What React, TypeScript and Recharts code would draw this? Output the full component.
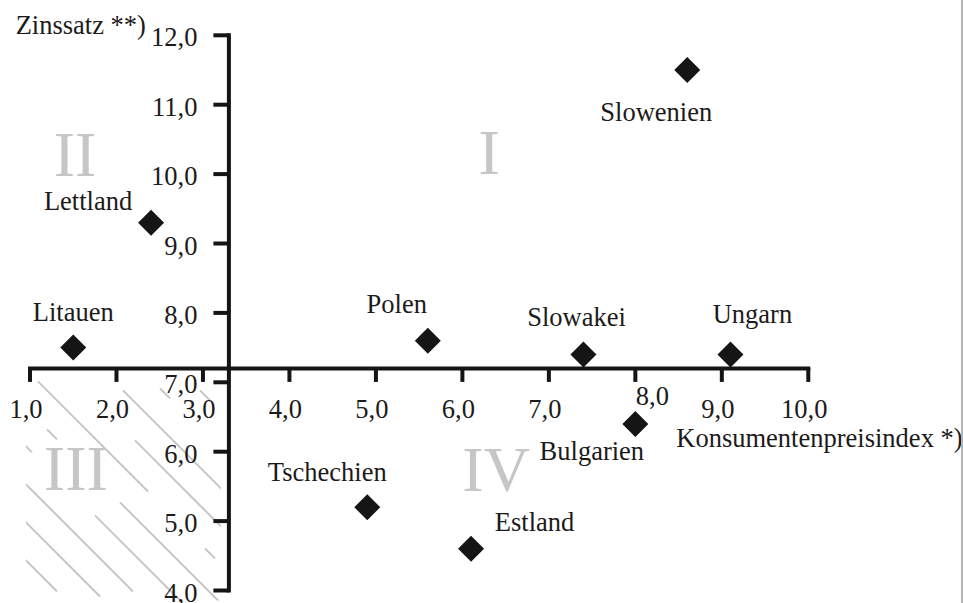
import React from 'react';
import { ScatterChart, Scatter, XAxis, YAxis, ReferenceLine, ReferenceDot, ReferenceArea } from 'recharts';

// Länder, Konsumentenpreisindex (x) und Zinssatz (y)
const countries = ['Litauen', 'Lettland', 'Polen', 'Tschechien', 'Estland', 'Slowakei', 'Bulgarien', 'Slowenien', 'Ungarn'];
const cpi = [1.5, 2.4, 5.6, 4.9, 6.1, 7.4, 8.0, 8.6, 9.1];
const rate = [7.5, 9.3, 7.6, 5.2, 4.6, 7.4, 6.4, 11.5, 7.4];

const xTicks = [1, 2, 3, 4, 5, 6, 7, 8, 9, 10];
const xTickLabels = ['1,0', '2,0', '3,0', '4,0', '5,0', '6,0', '7,0', '8,0', '9,0', '10,0'];
const yTicks = [4, 5, 6, 7, 8, 9, 10, 11, 12];
const yTickLabels = ['4,0', '5,0', '6,0', '7,0', '8,0', '9,0', '10,0', '11,0', '12,0'];

// Schnittpunkt der Achsen
const xCross = 3.3;
const yCross = 7.2;

const quadrants = ['I', 'II', 'III', 'IV'];
const quadrantX = [6.31, 1.52, 1.53, 6.39];
const quadrantY = [10.31, 10.28, 5.76, 5.74];

const data = countries.map((name, i) => ({ name, x: cpi[i], y: rate[i] }));

// label placement (px, relative to the marker)
const labelOffsets: Record<string, [number, number]> = {
    Litauen: [0, -26.6],
    Lettland: [-63, -13],
    Polen: [-31, -28],
    Tschechien: [-40, -26],
    Estland: [63.5, -18],
    Slowakei: [-7, -29],
    Bulgarien: [-43.5, 36.5],
    Slowenien: [-31, 51],
    Ungarn: [22, -32],
};

const FONT = "'Liberation Serif', 'Times New Roman', Tinos, 'DejaVu Serif', serif";
const FS = 26.5;
const INK = '#151515';
const TEXT = '#1c1a1a';
const GREY = '#c6c6c6';

const textStyle = (size: number, color: string) => ({ fontFamily: FONT, fontSize: size, fill: color });

// hatch lines in quadrant III
const hatchOffsets = [-148, -110, -71, -33, 5, 44, 82, 120, 158, 196];
const hatchPhase = [3, -37, 93, 105, 8, 90, 65, -7, -40, -83];

const HatchShape = (props: any) => {
    const { x, y, width, height } = props;
    return (
        <g>
            <defs>
                <clipPath id="hatch-clip">
                    <rect x={x - 4} y={y + 10} width={width - 4} height={height} />
                </clipPath>
            </defs>
            <g clipPath="url(#hatch-clip)">
                {hatchOffsets.map((c, i) => {
                    const sx = x + hatchPhase[i] - 240;
                    const sy = y + (sx - x) + c;
                    return (
                        <line
                            key={i}
                            x1={sx}
                            y1={sy}
                            x2={sx + 600}
                            y2={sy + 600}
                            stroke={GREY}
                            strokeWidth={2}
                            strokeDasharray="155.6 80.6 14.1 89.1"
                        />
                    );
                })}
            </g>
        </g>
    );
};

const Diamond = (props: any) => {
    const { cx, cy } = props;
    const name = props.payload?.name ?? props.name;
    const [dx, dy] = labelOffsets[name] || [0, -28];
    const r = 13;
    return (
        <g>
            <polygon points={`${cx},${cy - r} ${cx + r},${cy} ${cx},${cy + r} ${cx - r},${cy}`} fill={INK} />
            <text x={cx + dx} y={cy + dy} textAnchor="middle" style={textStyle(FS, TEXT)}>
                {name}
            </text>
        </g>
    );
};

export default function App() {
    return (
        <div style={{ position: 'absolute', left: 0, top: 0, width: 963, height: 603, background: '#fff', fontFamily: FONT }}>
            <ScatterChart width={963} height={603} margin={{ top: 35.3, right: 154.7, bottom: 12.5, left: 30 }}>
                <XAxis type="number" dataKey="x" domain={[1, 10]} hide allowDataOverflow />
                <YAxis type="number" dataKey="y" domain={[4, 12]} hide allowDataOverflow />

                <ReferenceArea x1={1} x2={xCross} y1={4} y2={yCross} ifOverflow="visible" shape={HatchShape} />

                {quadrants.map((q, i) => (
                    <ReferenceDot
                        key={q}
                        x={quadrantX[i]}
                        y={quadrantY[i]}
                        ifOverflow="visible"
                        shape={(p: any) => (
                            <text x={p.cx} y={p.cy + 21.5} textAnchor="middle" style={textStyle(64, GREY)}>
                                {q}
                            </text>
                        )}
                    />
                ))}

                <ReferenceLine y={yCross} stroke={INK} strokeWidth={4} strokeLinecap="square" ifOverflow="visible" />
                <ReferenceLine x={xCross} stroke={INK} strokeWidth={4} strokeLinecap="square" ifOverflow="visible" />

                {xTicks.map((t, i) => (
                    <ReferenceDot
                        key={'x' + t}
                        x={t}
                        y={yCross}
                        ifOverflow="visible"
                        shape={(p: any) => {
                            const shifted = t === 8;
                            return (
                                <g>
                                    <line x1={p.cx} y1={p.cy} x2={p.cx} y2={p.cy + 13.5} stroke={INK} strokeWidth={4} />
                                    <text
                                        x={p.cx + (shifted ? 17 : -4)}
                                        y={p.cy + (shifted ? 37 : 50)}
                                        textAnchor="middle"
                                        style={textStyle(FS, TEXT)}
                                    >
                                        {xTickLabels[i]}
                                    </text>
                                </g>
                            );
                        }}
                    />
                ))}

                {yTicks.map((t, i) => (
                    <ReferenceDot
                        key={'y' + t}
                        x={xCross}
                        y={t}
                        ifOverflow="visible"
                        shape={(p: any) => (
                            <g>
                                <line x1={p.cx - 15.5} y1={p.cy} x2={p.cx} y2={p.cy} stroke={INK} strokeWidth={4} />
                                <text x={p.cx - 31.5} y={p.cy + 11} textAnchor="end" style={textStyle(FS, TEXT)}>
                                    {yTickLabels[i]}
                                </text>
                            </g>
                        )}
                    />
                ))}

                <ReferenceDot
                    x={xCross}
                    y={12}
                    ifOverflow="visible"
                    shape={(p: any) => (
                        <text x={p.cx - 83} y={p.cy - 1} textAnchor="end" style={textStyle(FS, TEXT)}>
                            Zinssatz **)
                        </text>
                    )}
                />
                <ReferenceDot
                    x={10}
                    y={yCross}
                    ifOverflow="visible"
                    shape={(p: any) => (
                        <text x={p.cx - 132} y={p.cy + 79} textAnchor="start" style={textStyle(FS, TEXT)}>
                            Konsumentenpreisindex *)
                        </text>
                    )}
                />

                <Scatter data={data} shape={Diamond} isAnimationActive={false} />
            </ScatterChart>
            <div style={{ position: 'absolute', left: 961, top: 0, width: 2, height: 603, background: '#b4b4b4' }} />
        </div>
    );
}
